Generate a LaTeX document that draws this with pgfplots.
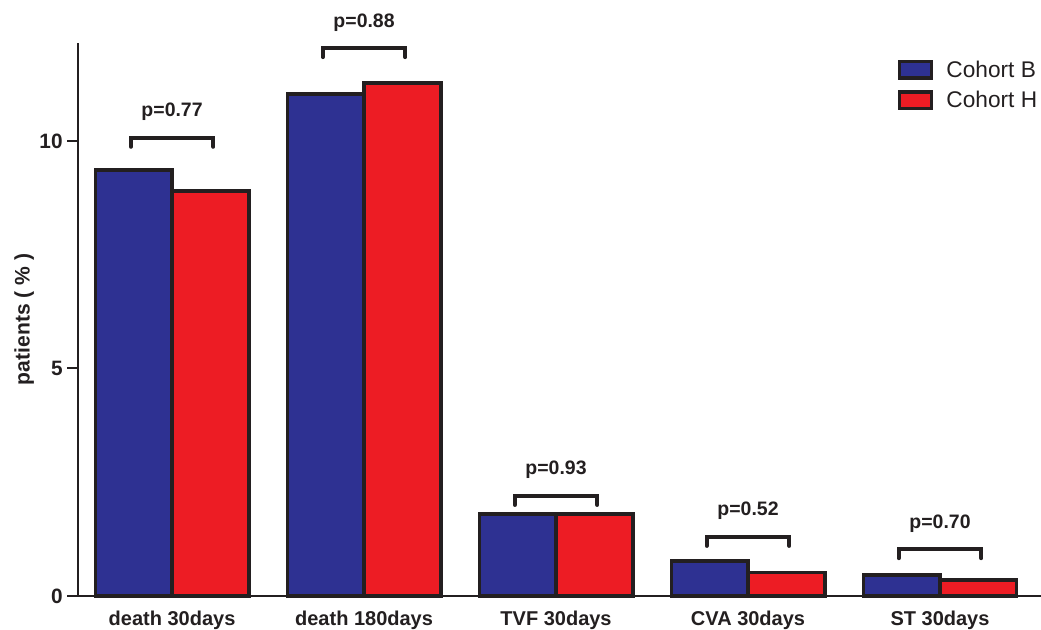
\documentclass[border=0pt]{standalone}
\usepackage{pgfplots}
\pgfplotsset{compat=1.18}
\usepackage{fontspec}
\setmainfont{Liberation Sans}
\definecolor{cohB}{HTML}{2E3192}
\definecolor{cohH}{HTML}{ED1C24}
\definecolor{edge}{HTML}{231F20}

% p-value bracket: centre x, bracket height, text
\newcommand{\pbr}[3]{%
  \draw[line width=3pt, edge, line cap=round]
    (axis cs:#1-0.215,#2-0.2) -- (axis cs:#1-0.215,#2) -- (axis cs:#1+0.215,#2) -- (axis cs:#1+0.215,#2-0.2);
  \node[anchor=base, font=\bfseries\fontsize{14.6}{17}\selectfont, text=edge, inner sep=0pt]
    at (axis cs:#1,#2+0.46) {#3};}

\begin{document}
\begin{tikzpicture}
\useasboundingbox (-58.5pt,-25.5pt) rectangle (722.25pt,447pt);
\begin{axis}[
    at={(0,0)}, anchor=south west,
    scale only axis, width=722.25pt, height=414.75pt,
    xmin=-0.49, xmax=4.526, ymin=0, ymax=12.15,
    axis x line=bottom, axis y line=left,
    axis line style={-, line width=1.5pt, edge},
    clip=false,
    ytick={0,5,10},
    tick align=outside,
    major tick length=8pt,
    y tick style={line width=1.5pt, edge},
    xtick={0,1,2,3,4},
    xticklabels={death 30days, death 180days, TVF 30days, CVA 30days, ST 30days},
    x tick style={draw=none},
    xticklabel style={anchor=base, yshift=-14.5pt, inner sep=0pt, font=\bfseries\fontsize{15}{18}\selectfont},
    yticklabel style={font=\bfseries\fontsize{15.6}{18}\selectfont},
    ticklabel style={text=edge},
    /pgf/number format/assume math mode=true,
    ylabel={patients ( \% )},
    ylabel style={at={(axis description cs:-0.056,0.5)}, anchor=center,
                  font=\bfseries\fontsize{15.8}{18}\selectfont, text=edge},
    every axis plot/.append style={ybar, bar width=0.4, draw=edge, line width=2.5pt},
    legend image code/.code={\draw[#1, line width=2.5pt] (0pt,-6.2pt) rectangle (24pt,6.2pt);},
    legend style={draw=none, fill=none, at={(rel axis cs:0.851,0.971)}, anchor=north west,
                  font=\fontsize{17}{20}\selectfont, text=edge, row sep=7pt, column sep=9pt,
                  inner sep=0pt, nodes={inner sep=1pt}},
    legend cell align=left,
]
\addplot[fill=cohB, bar shift=-0.2] coordinates {
    (0,9.36) (1,11.03) (2,1.80) (3,0.77) (4,0.46)
};
\addlegendentry{Cohort B}
\addplot[fill=cohH, bar shift=0.2] coordinates {
    (0,8.90) (1,11.27) (2,1.80) (3,0.51) (4,0.35)
};
\addlegendentry{Cohort H}

\pbr{0}{10.07}{p=0.77}
\pbr{1}{12.04}{p=0.88}
\pbr{2}{2.20}{p=0.93}
\pbr{3}{1.30}{p=0.52}
\pbr{4}{1.03}{p=0.70}
\end{axis}
\end{tikzpicture}
\end{document}
